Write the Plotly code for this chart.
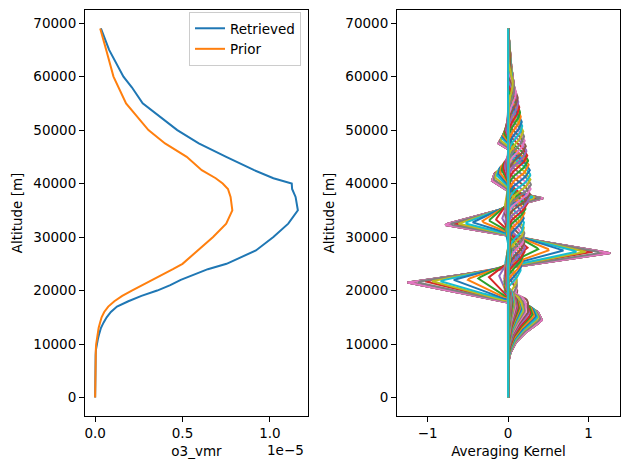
import numpy as np
import plotly.graph_objects as go

# ---------------- Left panel data (altitude in km, o3 vmr in units of 1e-5) ----------------
alt_km = [0, 2, 4, 6, 8, 9, 10, 11, 12, 13, 14, 15, 16, 17, 18, 19, 20, 21, 22, 23, 24, 25,
          27.5, 30, 32.5, 35, 37.5, 39, 40, 41, 42.5, 45, 47.5, 50, 55, 58, 60, 65, 69]
retrieved_e5 = [0.0, 0.0, 0.0005, 0.001, 0.003, 0.005, 0.009, 0.016, 0.024, 0.033, 0.048, 0.066,
                0.09, 0.125, 0.19, 0.265, 0.355, 0.43, 0.49, 0.57, 0.645, 0.752,
                0.92, 1.02, 1.105, 1.16, 1.147, 1.127, 1.125, 1.02, 0.91, 0.75, 0.593, 0.47,
                0.272, 0.21, 0.162, 0.08, 0.033]
prior_e5 = [0.0, 0.0, 0.0005, 0.001, 0.002, 0.004, 0.006, 0.01, 0.015, 0.02, 0.028, 0.037,
            0.052, 0.075, 0.11, 0.155, 0.21, 0.27, 0.33, 0.39, 0.445, 0.50,
            0.585, 0.675, 0.75, 0.785, 0.775, 0.76, 0.73, 0.69, 0.61, 0.524, 0.40, 0.305,
            0.177, 0.135, 0.105, 0.063, 0.029]

# ---------------- Right panel data: averaging-kernel rows ----------------
# outermost row, split in bands (km, value)
ak_low_alt = [0, 6, 8, 10, 12, 13.5, 14.5, 16, 17, 17.8]
ak_low_val = [0, 0, 0.02, 0.08, 0.2, 0.35, 0.42, 0.37, 0.25, 0]
ak_mid_alt = [17.8, 21.5, 27.0, 32.3, 37.2, 38.6]
ak_mid_val = [0, -1.25, 1.27, -0.8, 0.45, 0]
ak_high_alt = [38.6, 40.5, 41.8, 44.2, 47.5, 53, 60, 69]
ak_high_val = [0, -0.2, -0.17, 0.25, -0.12, 0.12, 0.05, 0]
# shape of the single peaks of the inner rows (km relative to centre, relative value)
ak_peak_rel = [-4.5, -3.0, -1.5, 0.0, 1.5, 3.0, 4.5]
ak_peak_val = [0.0, 0.25, 0.75, 1.0, 0.75, 0.25, 0.0]

# per-row amplitudes and altitude offsets (km)
amp_low = [1.0, 1.0, 1.0, 0.95, 1.0, 1.0, 1.0,
           0.95, 0.9, 0.86, 0.82, 0.77, 0.72, 0.67, 0.62, 0.57, 0.53,
           0.49, 0.45, 0.41, 0.38, 0.35, 0.32, 0.29, 0.26, 0.24, 0.22,
           0.2, 0.18, 0.16, 0.15, 0.14, 0.13, 0.12, 0.11, 0.1, 0.09,
           0.09, 0.08, 0.08, 0.07, 0.07, 0.06, 0.06, 0.05, 0.05, 0.05,
           0.04, 0.04, 0.04, 0.03, 0.03, 0.03, 0.02, 0.02, 0.02, 0.01,
           0.01, 0.01, 0.0]
shift_low = [0, 0, 0, 0.1, 0, 0, 0,
             0.2, 0.4, 0.5, 0.7, 0.8, 1.0, 1.1, 1.3, 1.4, 1.6,
             1.7, 1.8, 1.9, 2.0, 2.1, 2.2, 2.3, 2.4, 2.5, 2.6,
             2.7, 2.8, 2.9, 3.0, 3.0, 3.0, 3.0, 3.0, 3.0, 3.0,
             3.0, 3.0, 3.0, 3.0, 3.0, 3.0, 3.0, 3.0, 3.0, 3.0,
             3.0, 3.0, 3.0, 3.0, 3.0, 3.0, 3.0, 3.0, 3.0, 3.0,
             3.0, 3.0, 3.0]
amp_mid = [1.0, 1.0, 1.0, 0.84, 1.0, 1.0, 1.0,
           0.92, 0.77, 0.68, 0.55, 0.41, 0.30, 0.19, 0.09, 0.05, 0.05,
           0.05, 0.05, 0.04, 0.04, 0.04, 0.04, 0.04, 0.04, 0.03, 0.03,
           0.03, 0.03, 0.03, 0.03, 0.03, 0.03, 0.02, 0.02, 0.02, 0.02,
           0.02, 0.02, 0.02, 0.02, 0.02, 0.02, 0.02, 0.01, 0.01, 0.01,
           0.01, 0.01, 0.01, 0.01, 0.01, 0.01, 0.01, 0.01, 0.01, 0.01,
           0.0, 0.0, 0.0]
shift_mid = [0, 0, 0, 0.2, 0, 0, 0,
             0.1, 0.2, 0.3, 0.45, 0.6, 0.8, 1.0, 1.2, 1.8, 2.4,
             3.0, 3.6, -1.5, -1.0, -0.5, 0.0, 0.5, 1.0, 1.5, 2.0,
             2.5, 3.0, 3.5, -1.2, -0.6, 0.2, 0.8, 1.4, 2.0, 2.6,
             3.2, -1.0, -0.4, 0.4, 1.0, 1.6, 2.2, 2.8, 3.4, -0.8,
             -0.2, 0.6, 1.2, 1.8, 2.4, 3.0, -0.5, 0.3, 1.1, 1.9,
             2.7, 1.5, 1.5]
amp_high = [1.0, 1.0, 1.0, 0.95, 1.0, 1.0, 1.0,
            0.9, 0.8, 0.7, 0.6, 0.5, 0.4, 0.3, 0.2, 0.1, 0.05,
            0, 0, 0, 0, 0, 0, 0, 0, 0, 0,
            0, 0, 0, 0, 0, 0, 0, 0, 0, 0,
            0, 0, 0, 0, 0, 0, 0, 0, 0, 0,
            0, 0, 0, 0, 0, 0, 0, 0, 0, 0,
            0, 0, 0]
shift_high = [0, 0, 0, 0.3, 0, 0, 0,
              0.3, 0.6, 0.9, 1.2, 1.5, 1.8, 2.1, 2.4, 2.7, 3.0,
              0, 0, 0, 0, 0, 0, 0, 0, 0, 0,
              0, 0, 0, 0, 0, 0, 0, 0, 0, 0,
              0, 0, 0, 0, 0, 0, 0, 0, 0, 0,
              0, 0, 0, 0, 0, 0, 0, 0, 0, 0,
              0, 0, 0]
peak_center = [0, 0, 0, 0, 0, 0, 0,
               0, 0, 0, 0, 0, 0, 0, 0, 20.0, 20.9,
               21.8, 22.7, 23.6, 24.5, 25.4, 26.3, 27.2, 28.1, 29.0, 29.9,
               30.8, 31.7, 32.6, 33.5, 34.4, 35.3, 36.2, 37.1, 38.0, 38.9,
               39.8, 40.7, 41.6, 42.5, 43.4, 44.3, 45.2, 46.1, 47.0, 47.9,
               48.8, 49.7, 50.6, 51.5, 52.4, 53.3, 54.2, 55.1, 56.0, 56.9,
               57.8, 58.7, 0]
peak_amp = [0, 0, 0, 0, 0, 0, 0,
            0, 0, 0, 0, 0, 0, 0, 0, 0.12, 0.12,
            0.13, 0.13, 0.14, 0.14, 0.15, 0.15, 0.16, 0.16, 0.17, 0.17,
            0.18, 0.18, 0.19, 0.2, 0.21, 0.22, 0.24, 0.26, 0.27, 0.28,
            0.28, 0.28, 0.28, 0.27, 0.26, 0.25, 0.24, 0.23, 0.22, 0.21,
            0.2, 0.19, 0.18, 0.17, 0.16, 0.15, 0.14, 0.13, 0.12, 0.1,
            0.08, 0.06, 0.0]

tab10 = ['#1f77b4', '#ff7f0e', '#2ca02c', '#d62728', '#9467bd',
         '#8c564b', '#e377c2', '#7f7f7f', '#bcbd22', '#17becf']

FONT = "DejaVu Sans"
FS = 13.5
W, H = 629, 470

fig = go.Figure()

alt_m = np.array(alt_km) * 1000.0
fig.add_trace(go.Scatter(x=np.array(retrieved_e5) * 1e-5, y=alt_m, mode='lines', name='Retrieved',
                         line=dict(color=tab10[0], width=2), xaxis='x', yaxis='y'))
fig.add_trace(go.Scatter(x=np.array(prior_e5) * 1e-5, y=alt_m, mode='lines', name='Prior',
                         line=dict(color=tab10[1], width=2), xaxis='x', yaxis='y'))

zgrid = np.linspace(0, 69, 277)
for i in range(len(amp_low)):
    v = (amp_low[i] * np.interp(zgrid - shift_low[i], ak_low_alt, ak_low_val, left=0, right=0)
         + amp_mid[i] * np.interp(zgrid - shift_mid[i], ak_mid_alt, ak_mid_val, left=0, right=0)
         + amp_high[i] * np.interp(zgrid - shift_high[i], ak_high_alt, ak_high_val, left=0, right=0)
         + peak_amp[i] * np.interp(zgrid - peak_center[i], ak_peak_rel, ak_peak_val, left=0, right=0))
    fig.add_trace(go.Scatter(x=v, y=zgrid * 1000.0, mode='lines', showlegend=False,
                             line=dict(color=tab10[i % 10], width=2), xaxis='x2', yaxis='y2'))

def px_x(p):
    return p / W

def px_y(p):
    return 1 - p / H

axis_common = dict(showline=True, mirror=True, linecolor='black', linewidth=1, ticks='outside',
                   ticklen=5, tickwidth=1, tickcolor='black', showgrid=False, zeroline=False,
                   tickfont=dict(family=FONT, size=FS, color='black'))

yticks = [0, 10000, 20000, 30000, 40000, 50000, 60000, 70000]

fig.update_layout(
    width=W, height=H, margin=dict(l=0, r=0, t=0, b=0),
    paper_bgcolor='white', plot_bgcolor='white',
    font=dict(family=FONT, size=FS, color='black'),
    xaxis=dict(domain=[px_x(85), px_x(308)], range=[-0.058e-5, 1.218e-5], anchor='y',
               tickvals=[0, 0.5e-5, 1.0e-5], ticktext=['0.0', '0.5', '1.0'],
               title=dict(text='o3_vmr', standoff=6, font=dict(family=FONT, size=FS)),
               **axis_common),
    yaxis=dict(domain=[px_y(416), px_y(10)], range=[-3450, 72450], anchor='x',
               tickvals=yticks, ticktext=[str(t) for t in yticks],
               title=dict(text='Altitude [m]', standoff=7, font=dict(family=FONT, size=FS)),
               **axis_common),
    xaxis2=dict(domain=[px_x(397), px_x(620)], range=[-1.38, 1.39], anchor='y2',
                tickvals=[-1, 0, 1], ticktext=['\u22121', '0', '1'],
                title=dict(text='Averaging Kernel', standoff=6, font=dict(family=FONT, size=FS)),
                **axis_common),
    yaxis2=dict(domain=[px_y(416), px_y(10)], range=[-3450, 72450], anchor='x2',
                tickvals=yticks, ticktext=[str(t) for t in yticks],
                title=dict(text='Altitude [m]', standoff=7, font=dict(family=FONT, size=FS)),
                **axis_common),
    legend=dict(x=px_x(301), y=px_y(12), xanchor='right', yanchor='top',
                bgcolor='rgba(255,255,255,0.8)', bordercolor='#cccccc', borderwidth=1,
                font=dict(family=FONT, size=FS, color='black'), itemwidth=30,
                tracegroupgap=0),
    annotations=[dict(text='1e\u22125', xref='paper', yref='paper', x=px_x(306), y=px_y(450),
                      xanchor='right', yanchor='middle', showarrow=False,
                      font=dict(family=FONT, size=FS, color='black'))],
)

fig.write_html("out.html")
